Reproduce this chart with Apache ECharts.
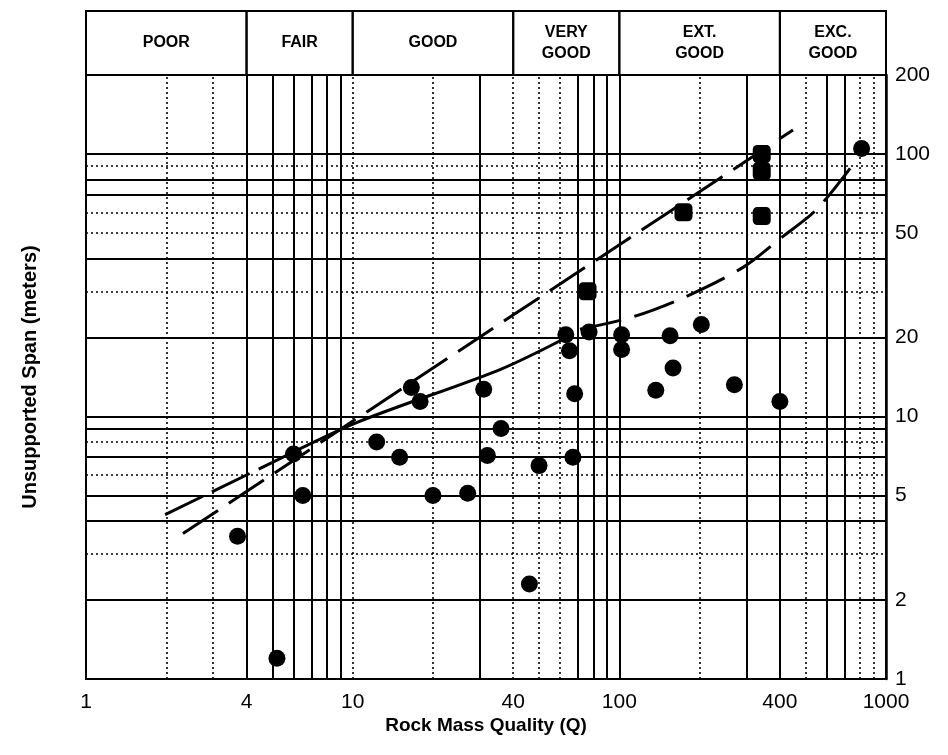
<!DOCTYPE html>
<html><head><meta charset="utf-8">
<script src="https://cdn.jsdelivr.net/npm/echarts@6/dist/echarts.min.js"></script>
<style>html,body{margin:0;padding:0;background:#fff}#c{width:948px;height:755px}</style>
</head><body><div id="c"></div>
<script>
// Quality classes (top band)
const qualityClasses = ['POOR', 'FAIR', 'GOOD', 'VERY\nGOOD', 'EXT.\nGOOD', 'EXC.\nGOOD'];
const qualityBounds = [1, 4, 10, 40, 100, 400, 1000];

// Tick labels
const xTickLabels = [1, 4, 10, 40, 100, 400, 1000];
const yTickLabels = [1, 2, 5, 10, 20, 50, 100, 200];

// Log-paper grid lines
const xGridSolid = [4, 5, 6, 7, 8, 9, 30, 70, 80, 90, 100, 300, 400, 600, 700];
const xGridDotted = [2, 3, 10, 20, 40, 50, 60, 200, 500, 800, 900];
const yGridSolid = [2, 4, 5, 7, 9, 10, 20, 40, 70, 80, 100];
const yGridDotted = [3, 6, 8, 30, 50, 60, 90];

// Case records: circles
const circleQ =    [3.7, 5.2, 6,   6.5, 12.3, 15, 16.6, 17.9, 20, 27,  31,   32,  36, 46,  50,  63,   65,   68,   67, 77, 102,  102, 137,  155,  159,  203,  270,  400,  810];
const circleSpan = [3.5, 1.2, 7.2, 5,   8,    7,  12.9, 11.4, 5,  5.1, 12.7, 7.1, 9,  2.3, 6.5, 20.5, 17.8, 12.2, 7,  21, 20.5, 18,  12.6, 20.3, 15.3, 22.4, 13.2, 11.4, 105];

// Case records: squares
const squareQ =    [76, 174, 342, 342, 342];
const squareSpan = [30, 60,  100, 86,  58];

// Fitted curve (dashed start, solid middle, dashed end)
const fitLeftQ = [1.98, 4.98];
const fitLeftSpan = [4.23, 6.67];
const fitSolidQ = [4.98, 10.4, 35.7, 63.4];
const fitSolidSpan = [6.67, 9.5, 15.1, 20.0];
const fitRightQ = [71.2, 111.5, 176, 291, 407, 551, 764];
const fitRightSpan = [21.5, 23.9, 28.5, 37.0, 48.2, 61.7, 93.2];

// Steep dashed envelope
const steepQ = [2.31, 37.9, 448];
const steepSpan = [3.58, 23.5, 123.5];

const zip = (a, b) => a.map((v, i) => [v, b[i]]);
const FONT = 'Liberation Sans';

const chart = echarts.init(document.getElementById('c'), null, {renderer: 'canvas'});
chart.setOption({
  animation: false,
  backgroundColor: '#fff',
  textStyle: {fontFamily: FONT, color: '#000'},
  grid: [
    {left: 86, top: 75, width: 800, height: 604, show: true, borderColor: '#000', borderWidth: 2, backgroundColor: 'transparent'},
    {left: 86, top: 11, width: 800, height: 64, show: false}
  ],
  xAxis: [
    {
      type: 'log', logBase: 10, min: 1, max: 1000, gridIndex: 0,
      axisLine: {show: true, lineStyle: {color: '#000', width: 2}},
      axisTick: {show: false},
      splitLine: {show: false},
      minorSplitLine: {show: false},
      axisLabel: {customValues: xTickLabels, formatter: v => String(v), fontSize: 21, color: '#000', margin: 13, fontFamily: FONT},
      name: 'Rock Mass Quality (Q)', nameLocation: 'middle', nameGap: 37, nameMoveOverlap: false,
      nameTextStyle: {fontSize: 19, fontWeight: 'bold', color: '#000', fontFamily: FONT, verticalAlign: 'top'}
    },
    {type: 'log', logBase: 10, min: 1, max: 1000, gridIndex: 1, show: false}
  ],
  yAxis: [
    {
      type: 'log', logBase: 10, min: 1, max: 200, gridIndex: 0, position: 'right',
      axisLine: {show: true, lineStyle: {color: '#000', width: 2.5}},
      axisTick: {show: false},
      splitLine: {show: false},
      axisLabel: {customValues: yTickLabels, formatter: v => String(v), fontSize: 21, color: '#000', margin: 9, fontFamily: FONT}
    },
    {
      type: 'log', logBase: 10, min: 1, max: 200, gridIndex: 0, position: 'left',
      axisLine: {show: true, lineStyle: {color: '#000', width: 2}},
      axisTick: {show: false},
      splitLine: {show: false},
      axisLabel: {show: false},
      name: 'Unsupported Span (meters)', nameLocation: 'middle', nameGap: 46,
      nameTextStyle: {fontSize: 20, fontWeight: 'bold', color: '#000', fontFamily: FONT}
    },
    {type: 'value', min: 0, max: 1, gridIndex: 1, show: false}
  ],
  series: [
    {
      name: 'band', type: 'line', xAxisIndex: 1, yAxisIndex: 2,
      data: [[1, 0]], symbol: 'none', lineStyle: {opacity: 0}, silent: true,
      markArea: {
        silent: true,
        itemStyle: {color: 'rgba(0,0,0,0)', borderColor: '#000', borderWidth: 2},
        label: {show: true, position: 'inside', color: '#000', fontSize: 16, fontWeight: 'bold', lineHeight: 21, fontFamily: FONT},
        data: qualityClasses.map((n, i) => [{name: n, xAxis: qualityBounds[i]}, {xAxis: qualityBounds[i + 1]}])
      }
    },
    {
      name: 'gridSolid', type: 'line', xAxisIndex: 0, yAxisIndex: 0,
      data: [[1, 1]], symbol: 'none', lineStyle: {opacity: 0}, silent: true,
      markLine: {
        silent: true, symbol: ['none', 'none'], label: {show: false},
        lineStyle: {color: '#000', width: 2, type: 'solid'},
        emphasis: {disabled: true},
        data: xGridSolid.map(v => ({xAxis: v})).concat(yGridSolid.map(v => ({yAxis: v})))
      }
    },
    {
      name: 'gridDotted', type: 'line', xAxisIndex: 0, yAxisIndex: 0,
      data: [[1, 1]], symbol: 'none', lineStyle: {opacity: 0}, silent: true,
      markLine: {
        silent: true, symbol: ['none', 'none'], label: {show: false},
        lineStyle: {color: '#000', width: 1.6, type: [2, 3]},
        emphasis: {disabled: true},
        data: xGridDotted.map(v => ({xAxis: v})).concat(yGridDotted.map(v => ({yAxis: v})))
      }
    },
    {
      name: 'fitLeft', type: 'line', xAxisIndex: 0, yAxisIndex: 0,
      data: zip(fitLeftQ, fitLeftSpan), symbol: 'none',
      lineStyle: {color: '#000', width: 3, type: [42, 10]}
    },
    {
      name: 'fitSolid', type: 'line', xAxisIndex: 0, yAxisIndex: 0,
      data: zip(fitSolidQ, fitSolidSpan), symbol: 'none', smooth: 0.3,
      lineStyle: {color: '#000', width: 3, type: 'solid'}
    },
    {
      name: 'fitRight', type: 'line', xAxisIndex: 0, yAxisIndex: 0,
      data: zip(fitRightQ, fitRightSpan), symbol: 'none', smooth: 0.3,
      lineStyle: {color: '#000', width: 3, type: [42, 14]}
    },
    {
      name: 'steep', type: 'line', xAxisIndex: 0, yAxisIndex: 0,
      data: zip(steepQ, steepSpan), symbol: 'none',
      lineStyle: {color: '#000', width: 3, type: [42, 13]}
    },
    {
      name: 'circles', type: 'scatter', xAxisIndex: 0, yAxisIndex: 0,
      data: zip(circleQ, circleSpan), symbol: 'circle', symbolSize: 17,
      itemStyle: {color: '#000', opacity: 1}
    },
    {
      name: 'squares', type: 'scatter', xAxisIndex: 0, yAxisIndex: 0,
      data: zip(squareQ, squareSpan), symbol: 'roundRect', symbolSize: 18,
      itemStyle: {color: '#000', opacity: 1}
    }
  ]
});
</script>
</body></html>
